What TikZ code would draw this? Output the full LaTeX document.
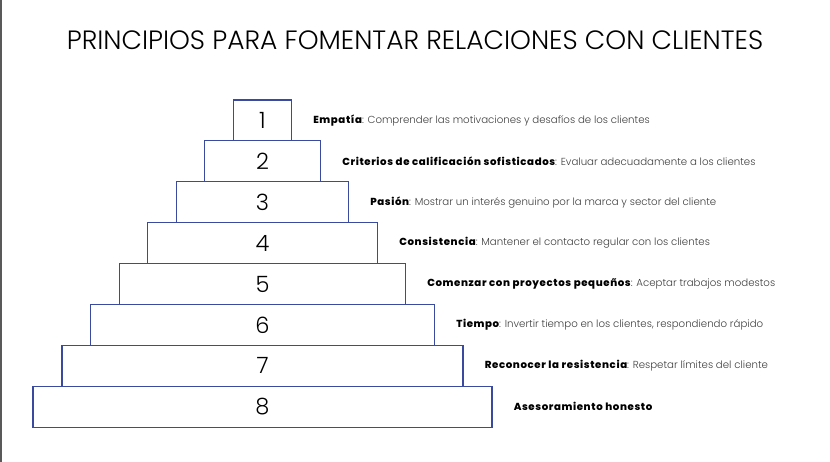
\documentclass[tikz,border=0pt]{standalone}
\usepackage{fontspec}
\setmainfont{Poppins}
\newfontfamily\thinfont[BoldFont = {Poppins ExtraBold}, BoldFeatures = {LetterSpace = 6}]{Poppins Light}
\usetikzlibrary{positioning}
\definecolor{stepblue}{HTML}{3A4A9E}
\definecolor{descgray}{HTML}{404040}

\tikzset{
  level/.style = {rectangle, draw = stepblue, line width = 1.1pt, inner sep = 0pt,
                  minimum height = 40.9pt, font = \thinfont\fontsize{22.5}{22.5}\selectfont},
  desc/.style  = {anchor = west, inner sep = 0pt, text = descgray,
                  font = \thinfont\fontsize{10.2}{12}\selectfont}
}

\begin{document}
\begin{tikzpicture}[x = 1pt, y = 1pt]
			\useasboundingbox[fill = white] (0,0) rectangle (830,-462);
			\draw[gray!70!black, line width = 1.5pt] (0.75,0) -- (0.75,-462);

			% Title
			\node[font = \thinfont\fontsize{26.5}{26.5}\selectfont] (title) at (415,-40) {PRINCIPIOS PARA FOMENTAR RELACIONES CON CLIENTES};

			% Pyramid
			\node[level, minimum width = 58pt]  (b1) at (262.5,-120.5) {1};
			\node[level, minimum width = 116pt] (b2) at (262.5,-161.4) {2};
			\node[level, minimum width = 172pt] (b3) at (262.5,-202.3) {3};
			\node[level, minimum width = 230pt] (b4) at (262.5,-243.2) {4};
			\node[level, minimum width = 286pt] (b5) at (262.5,-284.1) {5};
			\node[level, minimum width = 344pt] (b6) at (262.5,-325.0) {6};
			\node[level, minimum width = 401pt] (b7) at (262.5,-365.9) {7};
			\node[level, minimum width = 459pt] (b8) at (262.5,-406.8) {8};

			% Descriptions
			\node[desc, right = 21pt of b1] (d1) {\textcolor{black}{\bfseries Empatía}: Comprender las motivaciones y desafíos de los clientes};
			\node[desc, right = 21pt of b2] (d2) {\textcolor{black}{\bfseries Criterios de calificación sofisticados}: Evaluar adecuadamente a los clientes};
			\node[desc, right = 21pt of b3] (d3) {\textcolor{black}{\bfseries Pasión}: Mostrar un interés genuino por la marca y sector del cliente};
			\node[desc, right = 21pt of b4] (d4) {\textcolor{black}{\bfseries Consistencia}: Mantener el contacto regular con los clientes};
			\node[desc, right = 21pt of b5] (d5) {\textcolor{black}{\bfseries Comenzar con proyectos pequeños}: Aceptar trabajos modestos};
			\node[desc, right = 21pt of b6] (d6) {\textcolor{black}{\bfseries Tiempo}: Invertir tiempo en los clientes, respondiendo rápido};
			\node[desc, right = 21pt of b7] (d7) {\textcolor{black}{\bfseries Reconocer la resistencia}: Respetar límites del cliente};
			\node[desc, right = 21pt of b8] (d8) {\textcolor{black}{\bfseries Asesoramiento honesto}};
		\end{tikzpicture}
\end{document}
